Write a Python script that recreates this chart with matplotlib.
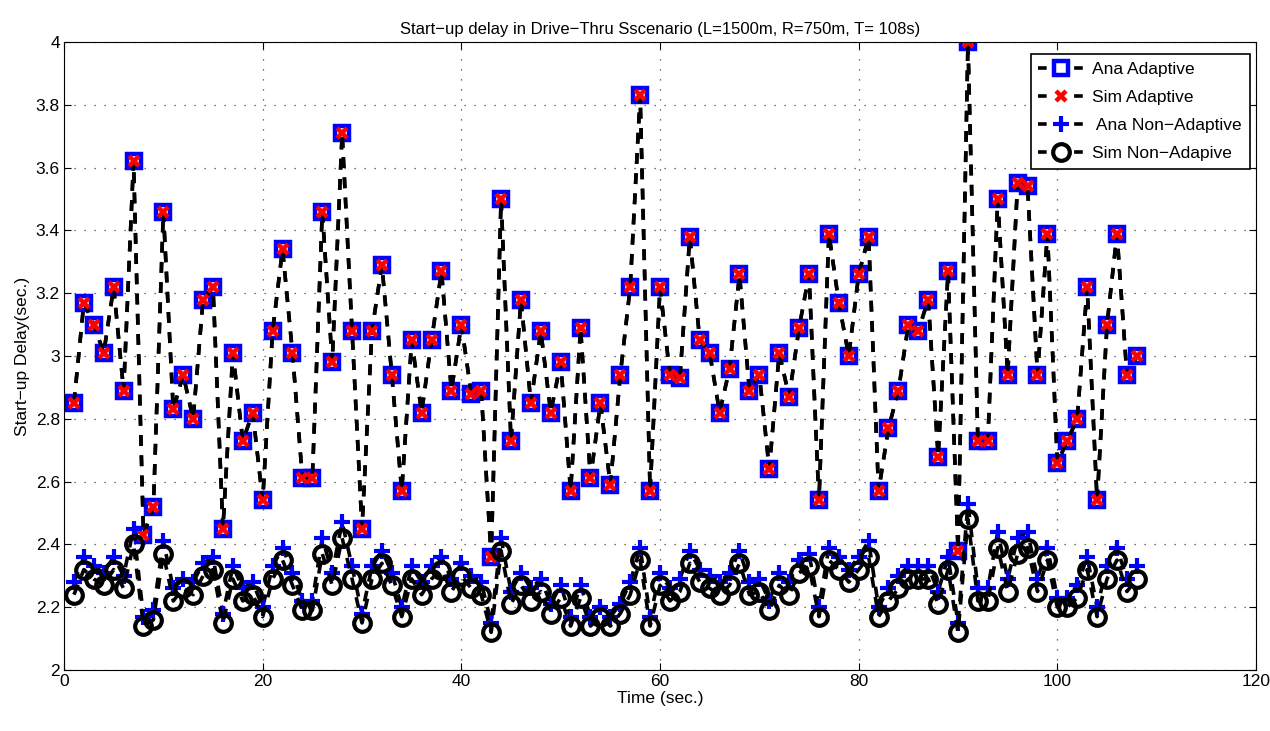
import matplotlib
matplotlib.use("Agg")
import matplotlib.pyplot as plt
from matplotlib.lines import Line2D
import numpy as np

plt.rcParams['font.family'] = ['Liberation Sans', 'DejaVu Sans']

time = list(range(1, 109))

ana_adaptive = [2.85, 3.17, 3.10, 3.01, 3.22, 2.89, 3.62, 2.43, 2.52, 3.46,
                2.83, 2.94, 2.80, 3.18, 3.22, 2.45, 3.01, 2.73, 2.82, 2.54,
                3.08, 3.34, 3.01, 2.61, 2.61, 3.46, 2.98, 3.71, 3.08, 2.45,
                3.08, 3.29, 2.94, 2.57, 3.05, 2.82, 3.05, 3.27, 2.89, 3.10,
                2.88, 2.89, 2.36, 3.50, 2.73, 3.18, 2.85, 3.08, 2.82, 2.98,
                2.57, 3.09, 2.61, 2.85, 2.59, 2.94, 3.22, 3.83, 2.57, 3.22,
                2.94, 2.93, 3.38, 3.05, 3.01, 2.82, 2.96, 3.26, 2.89, 2.94,
                2.64, 3.01, 2.87, 3.09, 3.26, 2.54, 3.39, 3.17, 3.00, 3.26,
                3.38, 2.57, 2.77, 2.89, 3.10, 3.08, 3.18, 2.68, 3.27, 2.38,
                4.00, 2.73, 2.73, 3.50, 2.94, 3.55, 3.54, 2.94, 3.39, 2.66,
                2.73, 2.80, 3.22, 2.54, 3.10, 3.39, 2.94, 3.00]

sim_adaptive = list(ana_adaptive)

sim_non_adaptive = [2.24, 2.32, 2.29, 2.27, 2.32, 2.26, 2.40, 2.14, 2.16, 2.37,
                    2.22, 2.26, 2.24, 2.30, 2.32, 2.15, 2.29, 2.22, 2.24, 2.17,
                    2.29, 2.35, 2.27, 2.19, 2.19, 2.37, 2.27, 2.42, 2.29, 2.15,
                    2.29, 2.34, 2.27, 2.17, 2.29, 2.24, 2.29, 2.32, 2.25, 2.30,
                    2.26, 2.24, 2.12, 2.38, 2.21, 2.27, 2.22, 2.25, 2.18, 2.23,
                    2.14, 2.23, 2.14, 2.17, 2.14, 2.18, 2.24, 2.35, 2.14, 2.27,
                    2.22, 2.25, 2.34, 2.28, 2.26, 2.24, 2.27, 2.34, 2.24, 2.25,
                    2.19, 2.27, 2.24, 2.31, 2.33, 2.17, 2.35, 2.32, 2.28, 2.32,
                    2.36, 2.17, 2.22, 2.26, 2.29, 2.29, 2.29, 2.21, 2.32, 2.12,
                    2.48, 2.22, 2.22, 2.39, 2.25, 2.37, 2.39, 2.25, 2.35, 2.20,
                    2.20, 2.23, 2.32, 2.17, 2.29, 2.35, 2.25, 2.29]

ana_non_adaptive = [2.28, 2.36, 2.33, 2.31, 2.36, 2.30, 2.45, 2.17, 2.19, 2.41,
                    2.26, 2.29, 2.28, 2.34, 2.36, 2.18, 2.33, 2.26, 2.28, 2.20,
                    2.33, 2.39, 2.31, 2.22, 2.22, 2.42, 2.31, 2.47, 2.33, 2.18,
                    2.33, 2.38, 2.31, 2.20, 2.33, 2.28, 2.33, 2.36, 2.29, 2.34,
                    2.30, 2.28, 2.15, 2.42, 2.25, 2.31, 2.26, 2.29, 2.21, 2.27,
                    2.17, 2.27, 2.17, 2.20, 2.17, 2.21, 2.28, 2.39, 2.17, 2.31,
                    2.26, 2.29, 2.38, 2.32, 2.30, 2.28, 2.31, 2.38, 2.28, 2.29,
                    2.22, 2.31, 2.28, 2.35, 2.37, 2.20, 2.39, 2.36, 2.32, 2.36,
                    2.41, 2.20, 2.26, 2.30, 2.33, 2.33, 2.33, 2.25, 2.36, 2.15,
                    2.53, 2.26, 2.26, 2.44, 2.29, 2.42, 2.44, 2.29, 2.39, 2.23,
                    2.23, 2.27, 2.36, 2.20, 2.33, 2.39, 2.29, 2.33]

labels = ['Ana Adaptive', 'Sim Adaptive', ' Ana Non\u2212Adaptive', 'Sim Non\u2212Adapive']

fig = plt.figure(figsize=(12.7, 7.31), dpi=100)
ax = fig.add_axes([0.0504, 0.0834, 0.9386, 0.8591])

dash = (0, (3.0, 2.6))
styles = [
    dict(marker='s', ms=10, mfc='none', mec='#0000ff', mew=3.2),
    dict(marker='x', ms=7, mec='#ff0000', mew=3.2),
    dict(marker='+', ms=11, mec='#0000ff', mew=3.0),
    dict(marker='o', ms=12, mfc='none', mec='black', mew=3.0),
]
series = [ana_adaptive, sim_adaptive, ana_non_adaptive, sim_non_adaptive]
for vals, st in zip(series, styles):
    ax.plot(time, vals, linestyle=dash, color='black', lw=2.6, **st)

ax.set_xlim(0, 120)
ax.set_ylim(2, 4)
ax.set_xticks(np.arange(0, 121, 20))
ax.set_yticks(np.arange(2, 4.01, 0.2))
ax.set_yticklabels(['2', '2.2', '2.4', '2.6', '2.8', '3', '3.2', '3.4', '3.6', '3.8', '4'])
ax.tick_params(direction='in', top=True, right=True, labelsize=12.5, length=5, pad=3)
ax.grid(True, linestyle=(0, (1, 7)), color='#444444', lw=0.9)

ax.set_title('Start\u2212up delay in Drive\u2212Thru Sscenario (L=1500m, R=750m, T= 108s)', fontsize=12, pad=6)
ax.set_xlabel('Time (sec.)', fontsize=12.5, labelpad=1)
ax.set_ylabel('Start\u2212up Delay(sec.)', fontsize=12.5, labelpad=4)

handles = [Line2D([], [], linestyle=(0, (2.4, 7.6)), color='black', lw=2.6, **st) for st in styles]
leg = ax.legend(handles, labels, loc='upper right', bbox_to_anchor=(1.002, 0.995), fontsize=12.5,
                fancybox=False, edgecolor='black', framealpha=1, handlelength=2.6,
                borderpad=0.45, labelspacing=0.75, handletextpad=0.5)
leg.get_frame().set_linewidth(1.2)

fig.savefig('out.png', dpi=100)
